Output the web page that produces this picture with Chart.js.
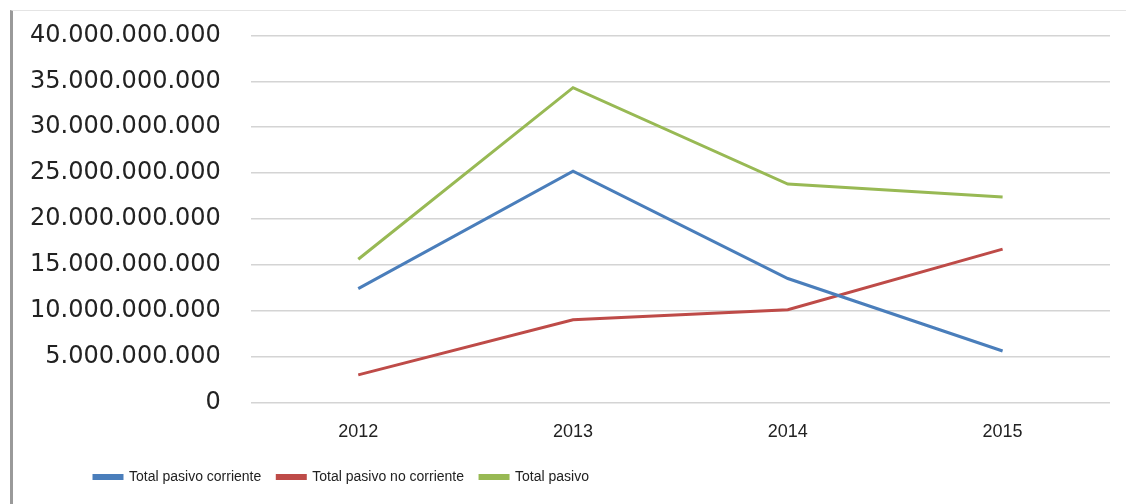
<!DOCTYPE html>
<html>
<head>
<meta charset="utf-8">
<script src="https://cdn.jsdelivr.net/npm/chart.js@4.4.1/dist/chart.umd.min.js"></script>
<style>
  html, body { margin: 0; padding: 0; background: #fff; overflow: hidden; }
  #frame { position: absolute; left: 10px; top: 10px; width: 1116px; height: 494px;
           border-left: 3px solid #9a9a9a; border-top: 1px solid #e4e4e4; box-sizing: border-box; }
  #wrap { position: absolute; left: 0; top: 0; width: 1126px; height: 504px; }
  canvas { display: block; }
</style>
</head>
<body>
<div id="frame"></div>
<div id="wrap"><canvas id="chart"></canvas></div>
<script>
const years = ['2012', '2013', '2014', '2015'];
const pasivoCorriente = [12400000000, 25200000000, 13500000000, 5600000000];
const pasivoNoCorriente = [3000000000, 9000000000, 10100000000, 16700000000];
const totalPasivo = [15600000000, 34300000000, 23800000000, 22400000000];

const fmt = v => Math.round(v).toString().replace(/\B(?=(\d{3})+(?!\d))/g, '.');

// move the legend row to the right, like in the original
const legendShift = {
    id: 'legendShift',
    afterLayout(chart) {
        chart.legend.left += 78;
        chart.legend.right += 78;
    }
};

new Chart(document.getElementById('chart'), {
    type: 'line',
    data: {
        labels: years,
        datasets: [
            { label: 'Total pasivo corriente', data: pasivoCorriente, borderColor: '#4a7ebb', backgroundColor: '#4a7ebb' },
            { label: 'Total pasivo no corriente', data: pasivoNoCorriente, borderColor: '#be4b48', backgroundColor: '#be4b48' },
            { label: 'Total pasivo', data: totalPasivo, borderColor: '#98b954', backgroundColor: '#98b954' }
        ]
    },
    options: {
        responsive: true,
        maintainAspectRatio: false,
        animation: false,
        layout: { padding: { left: 0, right: 16, top: 0, bottom: 10 } },
        elements: {
            line: { borderWidth: 3, tension: 0 },
            point: { radius: 0 }
        },
        scales: {
            x: {
                offset: true,
                grid: { display: false },
                border: { display: false },
                ticks: { color: '#222', padding: 11, font: { family: 'Liberation Sans', size: 18 } }
            },
            y: {
                min: 0,
                max: 40000000000,
                grid: { color: '#d4d4d4', lineWidth: 1.5, drawTicks: false },
                border: { display: false },
                ticks: {
                    stepSize: 5000000000,
                    color: '#222',
                    padding: 30,
                    font: { family: 'DejaVu Sans', size: 24, lineHeight: 0.45 },
                    callback: v => fmt(v)
                }
            }
        },
        plugins: {
            legend: {
                position: 'bottom',
                align: 'start',
                labels: {
                    boxWidth: 28,
                    boxHeight: 3,
                    padding: 16,
                    color: '#222',
                    font: { family: 'Liberation Sans', size: 14 }
                }
            },
            tooltip: { enabled: false }
        }
    },
    plugins: [legendShift]
});
</script>
</body>
</html>
